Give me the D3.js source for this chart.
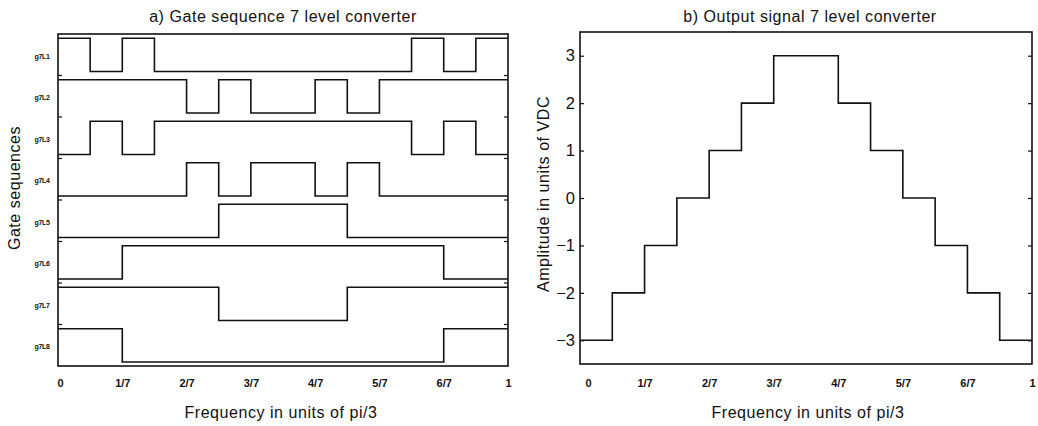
<!DOCTYPE html>
<html>
<head>
<meta charset="utf-8">
<script src="https://cdn.jsdelivr.net/npm/d3@7"></script>
<style>
  html, body { margin: 0; padding: 0; background: #fff; }
  svg { display: block; }
  .title, .xlabel, .ylabel { font-family: "Liberation Sans", Arial, sans-serif; font-size: 16px; fill: #111; letter-spacing: 0.55px; }
  .xticks text { font-family: "Liberation Sans Narrow", "Liberation Sans", Arial, sans-serif; font-weight: bold; font-size: 11px; fill: #111; }
  .yticks text { font-family: "Liberation Sans", Arial, sans-serif; font-size: 16.5px; fill: #111; }
  .rowlabel { font-family: "Liberation Sans Narrow", "Liberation Sans", Arial, sans-serif; font-weight: bold; font-size: 7px; fill: #111; letter-spacing: -0.3px; }
</style>
</head>
<body>
<svg id="chart" width="1038" height="426"></svg>
<script>
// Switching states over one period, split into 14 equal slots (slot k covers [k/14, (k+1)/14))
const channels = ["g7L1", "g7L2", "g7L3", "g7L4", "g7L5", "g7L6", "g7L7", "g7L8"];
const g7L1 = [1,0,1,0,0,0,0,0,0,0,0,1,0,1];
const g7L2 = [1,1,1,1,0,1,0,0,1,0,1,1,1,1];
const g7L3 = [0,1,0,1,1,1,1,1,1,1,1,0,1,0];
const g7L4 = [0,0,0,0,1,0,1,1,0,1,0,0,0,0];
const g7L5 = [0,0,0,0,0,1,1,1,1,0,0,0,0,0];
const g7L6 = [0,0,1,1,1,1,1,1,1,1,1,1,0,0];
const g7L7 = [1,1,1,1,1,0,0,0,0,1,1,1,1,1];
const g7L8 = [1,1,0,0,0,0,0,0,0,0,0,0,1,1];
const gateValues = [g7L1, g7L2, g7L3, g7L4, g7L5, g7L6, g7L7, g7L8];

// Output level (units of VDC) in each slot
const outputLevels = [-3,-2,-1,0,1,2,3,3,2,1,0,-1,-2,-3];

const xTickValues = [0, 1/7, 2/7, 3/7, 4/7, 5/7, 6/7, 1];
const xTickLabels = ["0", "1/7", "2/7", "3/7", "4/7", "5/7", "6/7", "1"];
const yTickValues = [-3, -2, -1, 0, 1, 2, 3];

const slots = 14;
const svg = d3.select("#chart");

// Turn a slot array into step points ending at x = 1
function stepPoints(values) {
  const pts = values.map((v, k) => [k / slots, v]);
  pts.push([1, values[values.length - 1]]);
  return pts;
}

function drawFrame(x, y0, y1) {
  svg.append("rect")
    .attr("x", x.range()[0]).attr("y", y0)
    .attr("width", x.range()[1] - x.range()[0]).attr("height", y1 - y0)
    .attr("fill", "none").attr("stroke", "#111").attr("stroke-width", 1.6);
}

function drawXAxis(x, yPos, padding, firstDx) {
  const ax = svg.append("g")
    .attr("class", "xticks")
    .attr("transform", `translate(0,${yPos})`)
    .call(d3.axisBottom(x).tickValues(xTickValues)
      .tickFormat((d, i) => xTickLabels[i]).tickSize(0).tickPadding(padding));
  ax.select(".domain").remove();
  ax.selectAll("text").filter((d, i) => i === 0).attr("dx", firstDx);
}

// ---------- a) gate sequences ----------
const xa = d3.scaleLinear().domain([0, 1]).range([58, 508]);
const rows = d3.scaleBand().domain(channels).range([34, 366]).paddingInner(0).paddingOuter(0);

drawFrame(xa, 34, 366);

const rowLine = d3.line().curve(d3.curveStepAfter);
channels.forEach((name, i) => {
  const top = rows(name), bottom = top + rows.bandwidth();
  const yr = d3.scaleLinear().domain([-0.12, 1.13]).range([bottom, top]);
  rowLine.x(d => xa(d[0])).y(d => yr(d[1]));
  svg.append("path")
    .attr("d", rowLine(stepPoints(gateValues[i])))
    .attr("fill", "none").attr("stroke", "#111").attr("stroke-width", 1.6);

  svg.append("text").attr("class", "rowlabel")
    .attr("x", 42).attr("y", top + rows.bandwidth() / 2 + 2)
    .attr("text-anchor", "middle").attr("dominant-baseline", "middle")
    .text(name);

  // short inward ticks at the boundary between rows
  if (i > 0) {
    [[xa.range()[0], xa.range()[0] + 4], [xa.range()[1], xa.range()[1] - 4]].forEach(([a, b]) => {
      svg.append("line").attr("x1", a).attr("x2", b).attr("y1", top).attr("y2", top)
        .attr("stroke", "#111").attr("stroke-width", 1.2);
    });
  }
});

drawXAxis(xa, 366, 13, 2);

svg.append("text").attr("class", "title")
  .attr("x", (xa.range()[0] + xa.range()[1]) / 2).attr("y", 22)
  .attr("text-anchor", "middle").text("a) Gate sequence 7 level converter");
svg.append("text").attr("class", "xlabel")
  .attr("x", 281).attr("y", 418)
  .attr("text-anchor", "middle").text("Frequency in units of pi/3");
svg.append("text").attr("class", "ylabel")
  .attr("transform", "translate(20,188) rotate(-90)")
  .attr("text-anchor", "middle").text("Gate sequences");

// ---------- b) output signal ----------
const xb = d3.scaleLinear().domain([0, 1]).range([580, 1032]);
const yb = d3.scaleLinear().domain([-3.5, 3.5]).range([364, 32]);

drawFrame(xb, 32, 364);

svg.append("path")
  .attr("d", d3.line().curve(d3.curveStepAfter).x(d => xb(d[0])).y(d => yb(d[1]))(stepPoints(outputLevels)))
  .attr("fill", "none").attr("stroke", "#111").attr("stroke-width", 1.6);

const yl = svg.append("g").attr("class", "yticks")
  .attr("transform", `translate(${xb.range()[0]},0)`)
  .call(d3.axisLeft(yb).tickValues(yTickValues).tickFormat(d3.format("d")).tickSizeInner(-4).tickSizeOuter(0).tickPadding(5));
yl.select(".domain").remove();
yl.selectAll("line").attr("stroke", "#111").attr("stroke-width", 1.2);

const yr = svg.append("g")
  .attr("transform", `translate(${xb.range()[1]},0)`)
  .call(d3.axisRight(yb).tickValues(yTickValues).tickFormat("").tickSizeInner(-4).tickSizeOuter(0));
yr.select(".domain").remove();
yr.selectAll("line").attr("stroke", "#111").attr("stroke-width", 1.2);

drawXAxis(xb, 364, 15, 8);

svg.append("text").attr("class", "title")
  .attr("x", 810).attr("y", 22)
  .attr("text-anchor", "middle").text("b) Output signal 7 level converter");
svg.append("text").attr("class", "xlabel")
  .attr("x", 808).attr("y", 418)
  .attr("text-anchor", "middle").text("Frequency in units of pi/3");
svg.append("text").attr("class", "ylabel")
  .attr("transform", "translate(549,194) rotate(-90)")
  .attr("text-anchor", "middle").text("Amplitude in units of VDC");
</script>
</body>
</html>
